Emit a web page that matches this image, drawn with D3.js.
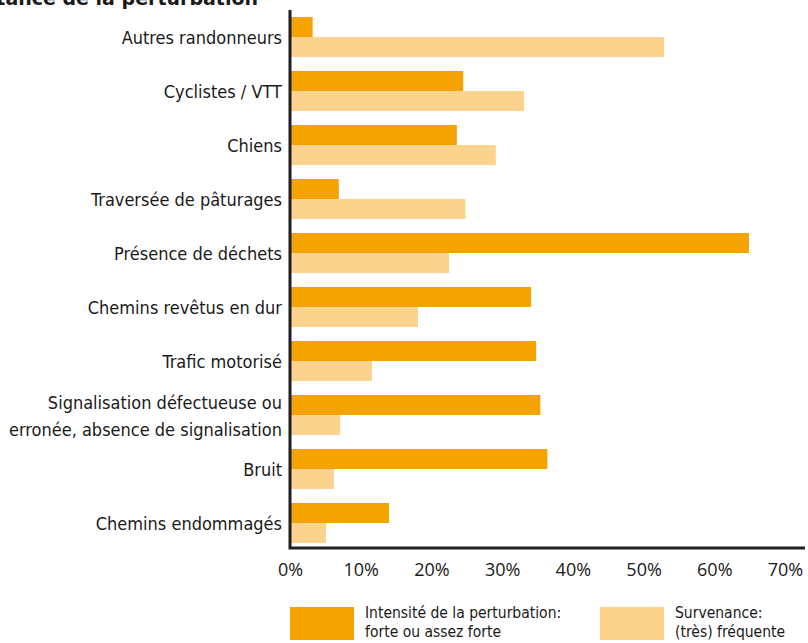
<!DOCTYPE html>
<html>
<head>
<meta charset="utf-8">
<script src="https://cdn.jsdelivr.net/npm/d3@7"></script>
<style>
  body { margin: 0; background: #fff; }
  svg { display: block; }
  .cat { font-family: "DejaVu Sans Condensed", "DejaVu Sans", sans-serif; font-stretch: condensed; font-size: 18px; fill: #1a1a1a; }
  .tick text { font-family: "Open Sans", "Noto Sans", sans-serif; font-size: 18px; fill: #1a1a1a; }
  .leg { font-family: "DejaVu Sans Condensed", "DejaVu Sans", sans-serif; font-stretch: condensed; font-size: 15.5px; fill: #1a1a1a; }
</style>
</head>
<body>
<svg width="808" height="643"></svg>
<script>
// données (%)
var categories = [
  "Autres randonneurs",
  "Cyclistes / VTT",
  "Chiens",
  "Traversée de pâturages",
  "Présence de déchets",
  "Chemins revêtus en dur",
  "Trafic motorisé",
  "Signalisation défectueuse ou|erronée, absence de signalisation",
  "Bruit",
  "Chemins endommagés"
];
var intensite = [3.2, 24.5, 23.6, 6.9, 64.9, 34.1, 34.8, 35.4, 36.4, 14.0];
var survenance = [52.9, 33.1, 29.1, 24.8, 22.5, 18.1, 11.6, 7.1, 6.2, 5.1];
var tickValues = [0, 10, 20, 30, 40, 50, 60, 70];
var tickLabels = ["0%", "10%", "20%", "30%", "40%", "50%", "60%", "70%"];

var series = [
  { key: "int", label: ["Intensité de la perturbation:", "forte ou assez forte"], color: "#f5a300", values: intensite },
  { key: "surv", label: ["Survenance:", "(très) fréquente"], color: "#fbd38c", values: survenance }
];

var svg = d3.select("svg");

var x = d3.scaleLinear().domain([0, 70]).range([290, 785]);

var y = d3.scaleBand()
  .domain(categories)
  .range([10, 550])
  .paddingInner(14 / 54)
  .paddingOuter(7 / 54);

var ySub = d3.scaleBand()
  .domain(series.map(function (s) { return s.key; }))
  .range([0, y.bandwidth()]);

// titre (coupé en haut, comme dans l'original)
svg.append("text")
  .attr("x", 258)
  .attr("y", 5)
  .attr("text-anchor", "end")
  .attr("font-family", "DejaVu Sans, sans-serif")
  .attr("font-weight", "bold")
  .attr("font-size", 19)
  .attr("fill", "#1a1a1a")
  .text("Importance de la perturbation");

// barres
var groups = svg.selectAll("g.grp")
  .data(categories)
  .enter().append("g")
  .attr("class", "grp")
  .attr("transform", function (d) { return "translate(0," + y(d) + ")"; });

groups.selectAll("rect")
  .data(function (d, i) {
    return series.map(function (s) { return { key: s.key, color: s.color, value: s.values[i] }; });
  })
  .enter().append("rect")
  .attr("x", x(0))
  .attr("y", function (d) { return ySub(d.key); })
  .attr("height", ySub.bandwidth())
  .attr("width", function (d) { return x(d.value) - x(0); })
  .attr("fill", function (d) { return d.color; });

// libellés des catégories
groups.append("text")
  .attr("class", "cat")
  .attr("x", 282)
  .attr("text-anchor", "end")
  .each(function (d) {
    var lines = d.split("|");
    var t = d3.select(this);
    var mid = y.bandwidth() / 2 + 1;
    lines.forEach(function (l, k) {
      t.append("tspan")
        .attr("x", 282)
        .attr("y", mid + (k - (lines.length - 1) / 2) * 27)
        .attr("dy", "0.35em")
        .text(l);
    });
  });

// axe x
var xAxis = d3.axisBottom(x)
  .tickValues(tickValues)
  .tickFormat(function (d, i) { return tickLabels[i]; })
  .tickSize(0)
  .tickPadding(15);

var ax = svg.append("g")
  .attr("transform", "translate(0,548)")
  .call(xAxis);
ax.select(".domain").remove();

// lignes des axes
svg.append("path")
  .attr("d", "M" + x(0) + ",10V548H805")
  .attr("fill", "none")
  .attr("stroke", "#1f1f1f")
  .attr("stroke-width", 3);

// légende
var legX = [290, 600];
var leg = svg.selectAll("g.leg")
  .data(series)
  .enter().append("g")
  .attr("transform", function (d, i) { return "translate(" + legX[i] + ",607)"; });

leg.append("rect")
  .attr("width", 64)
  .attr("height", 33)
  .attr("fill", function (d) { return d.color; });

leg.append("text")
  .attr("class", "leg")
  .each(function (d) {
    var t = d3.select(this);
    d.label.forEach(function (l, k) {
      t.append("tspan")
        .attr("x", 75)
        .attr("y", 6 + k * 19)
        .attr("dy", "0.35em")
        .text(l);
    });
  });
</script>
</body>
</html>
